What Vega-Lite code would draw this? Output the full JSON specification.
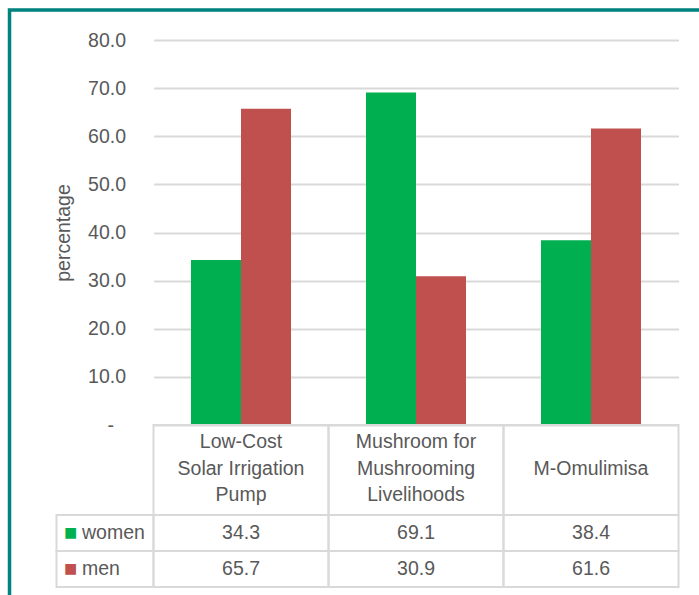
{
  "$schema": "https://vega.github.io/schema/vega-lite/v6.json",
  "padding": {"left": 7.5, "top": 8, "right": 0, "bottom": 0},
  "background": "white",
  "data": {
    "values": [
      {"program": "Low-Cost Solar Irrigation Pump", "label": "Low-Cost\nSolar Irrigation\nPump", "series": "women", "value": 34.3},
      {"program": "Low-Cost Solar Irrigation Pump", "label": "Low-Cost\nSolar Irrigation\nPump", "series": "men", "value": 65.7},
      {"program": "Mushroom for Mushrooming Livelihoods", "label": "Mushroom for\nMushrooming\nLivelihoods", "series": "women", "value": 69.1},
      {"program": "Mushroom for Mushrooming Livelihoods", "label": "Mushroom for\nMushrooming\nLivelihoods", "series": "men", "value": 30.9},
      {"program": "M-Omulimisa", "label": "\nM-Omulimisa", "series": "women", "value": 38.4},
      {"program": "M-Omulimisa", "label": "\nM-Omulimisa", "series": "men", "value": 61.6}
    ]
  },
  "columns": 2,
  "spacing": 0,
  "bounds": "flush",
  "concat": [
    {
      "width": 97, "height": 10,
      "mark": {"type": "rect", "opacity": 0},
      "encoding": {}
    },
    {
      "width": 525, "height": 385,
      "mark": {"type": "bar"},
      "encoding": {
        "x": {"field": "program", "type": "nominal", "sort": null,
              "scale": {"paddingInner": 0, "paddingOuter": 0}, "axis": null},
        "xOffset": {"field": "series", "type": "nominal",
              "scale": {"domain": ["women", "men"], "paddingInner": 0, "paddingOuter": 0.75}},
        "y": {"field": "value", "type": "quantitative",
              "scale": {"domain": [0, 80], "nice": false},
              "axis": {"title": "percentage", "values": [0, 10, 20, 30, 40, 50, 60, 70, 80],
                       "labelExpr": "datum.value == 0 ? '-' : format(datum.value, '.1f')",
                       "domain": false, "ticks": false, "grid": true,
                       "gridColor": "#d9d9d9", "gridWidth": 2,
                       "labelPadding": {"condition": {"test": "datum.value == 0", "value": 40}, "value": 28},
                       "labelFontSize": 19.5, "labelColor": "#595959",
                       "labelFont": "Liberation Sans",
                       "titleFont": "Liberation Sans", "titleFontSize": 19.5, "titleFontWeight": "normal",
                       "titleColor": "#595959", "titlePadding": 14}},
        "color": {"field": "series", "type": "nominal",
                  "scale": {"domain": ["women", "men"], "range": ["#00b050", "#c0504d"]},
                  "legend": {"orient": "none", "legendX": -47, "legendY": -30,
                             "title": null, "direction": "horizontal", "columnPadding": 80,
                             "padding": 292, "strokeColor": "#00827e", "fillColor": null,
                             "symbolOpacity": 0, "labelOpacity": 0, "labelExpr": "''",
                             "encode": {"legend": {"update": {"strokeWidth": {"value": 3.5}}}}}}
      }
    },
    {
      "width": 97, "height": 10,
      "mark": {"type": "rect", "opacity": 0},
      "encoding": {}
    },
    {
      "width": 525, "height": 90,
      "transform": [{"filter": "datum.series == 'women'"}],
      "layer": [
        {
          "mark": {"type": "rect", "fill": null, "stroke": "#d9d9d9", "strokeWidth": 2},
          "encoding": {
            "x": {"field": "program", "type": "nominal", "sort": null,
                  "scale": {"paddingInner": 0, "paddingOuter": 0}, "axis": null}
          }
        },
        {
          "mark": {"type": "text", "lineBreak": "\n", "lineHeight": 26.5, "fontSize": 19.5,
                   "font": "Liberation Sans", "color": "#595959", "baseline": "middle", "align": "center",
                   "dy": -28},
          "encoding": {
            "x": {"field": "program", "type": "nominal", "sort": null, "axis": null},
            "text": {"field": "label"}
          }
        }
      ]
    },
    {
      "width": 97, "height": 72,
      "transform": [{"aggregate": [{"op": "count", "as": "n"}], "groupby": ["series"]}],
      "layer": [
        {
          "mark": {"type": "rect", "fill": null, "stroke": "#d9d9d9", "strokeWidth": 2},
          "encoding": {
            "y": {"field": "series", "type": "nominal",
                  "scale": {"domain": ["women", "men"], "paddingInner": 0, "paddingOuter": 0}, "axis": null}
          }
        },
        {
          "mark": {"type": "text", "text": "■", "fontSize": 22, "font": "Liberation Sans",
                   "align": "left", "baseline": "middle", "dx": -41},
          "encoding": {
            "y": {"field": "series", "type": "nominal", "axis": null},
            "color": {"field": "series", "type": "nominal"}
          }
        },
        {
          "mark": {"type": "text", "fontSize": 19.5, "font": "Liberation Sans", "color": "#595959",
                   "align": "left", "baseline": "middle", "dx": -23},
          "encoding": {
            "y": {"field": "series", "type": "nominal", "axis": null},
            "text": {"field": "series"}
          }
        }
      ]
    },
    {
      "width": 525, "height": 72,
      "layer": [
        {
          "mark": {"type": "rect", "fill": null, "stroke": "#d9d9d9", "strokeWidth": 2},
          "encoding": {
            "x": {"field": "program", "type": "nominal", "sort": null,
                  "scale": {"paddingInner": 0, "paddingOuter": 0}, "axis": null},
            "y": {"field": "series", "type": "nominal",
                  "scale": {"domain": ["women", "men"], "paddingInner": 0, "paddingOuter": 0}, "axis": null}
          }
        },
        {
          "mark": {"type": "text", "fontSize": 19.5, "font": "Liberation Sans", "color": "#595959",
                   "align": "center", "baseline": "middle"},
          "encoding": {
            "x": {"field": "program", "type": "nominal", "sort": null, "axis": null},
            "y": {"field": "series", "type": "nominal", "axis": null},
            "text": {"field": "value", "type": "quantitative", "format": ".1f"}
          }
        }
      ]
    }
  ],
  "config": {
    "view": {"stroke": null},
    "font": "Liberation Sans"
  }
}
